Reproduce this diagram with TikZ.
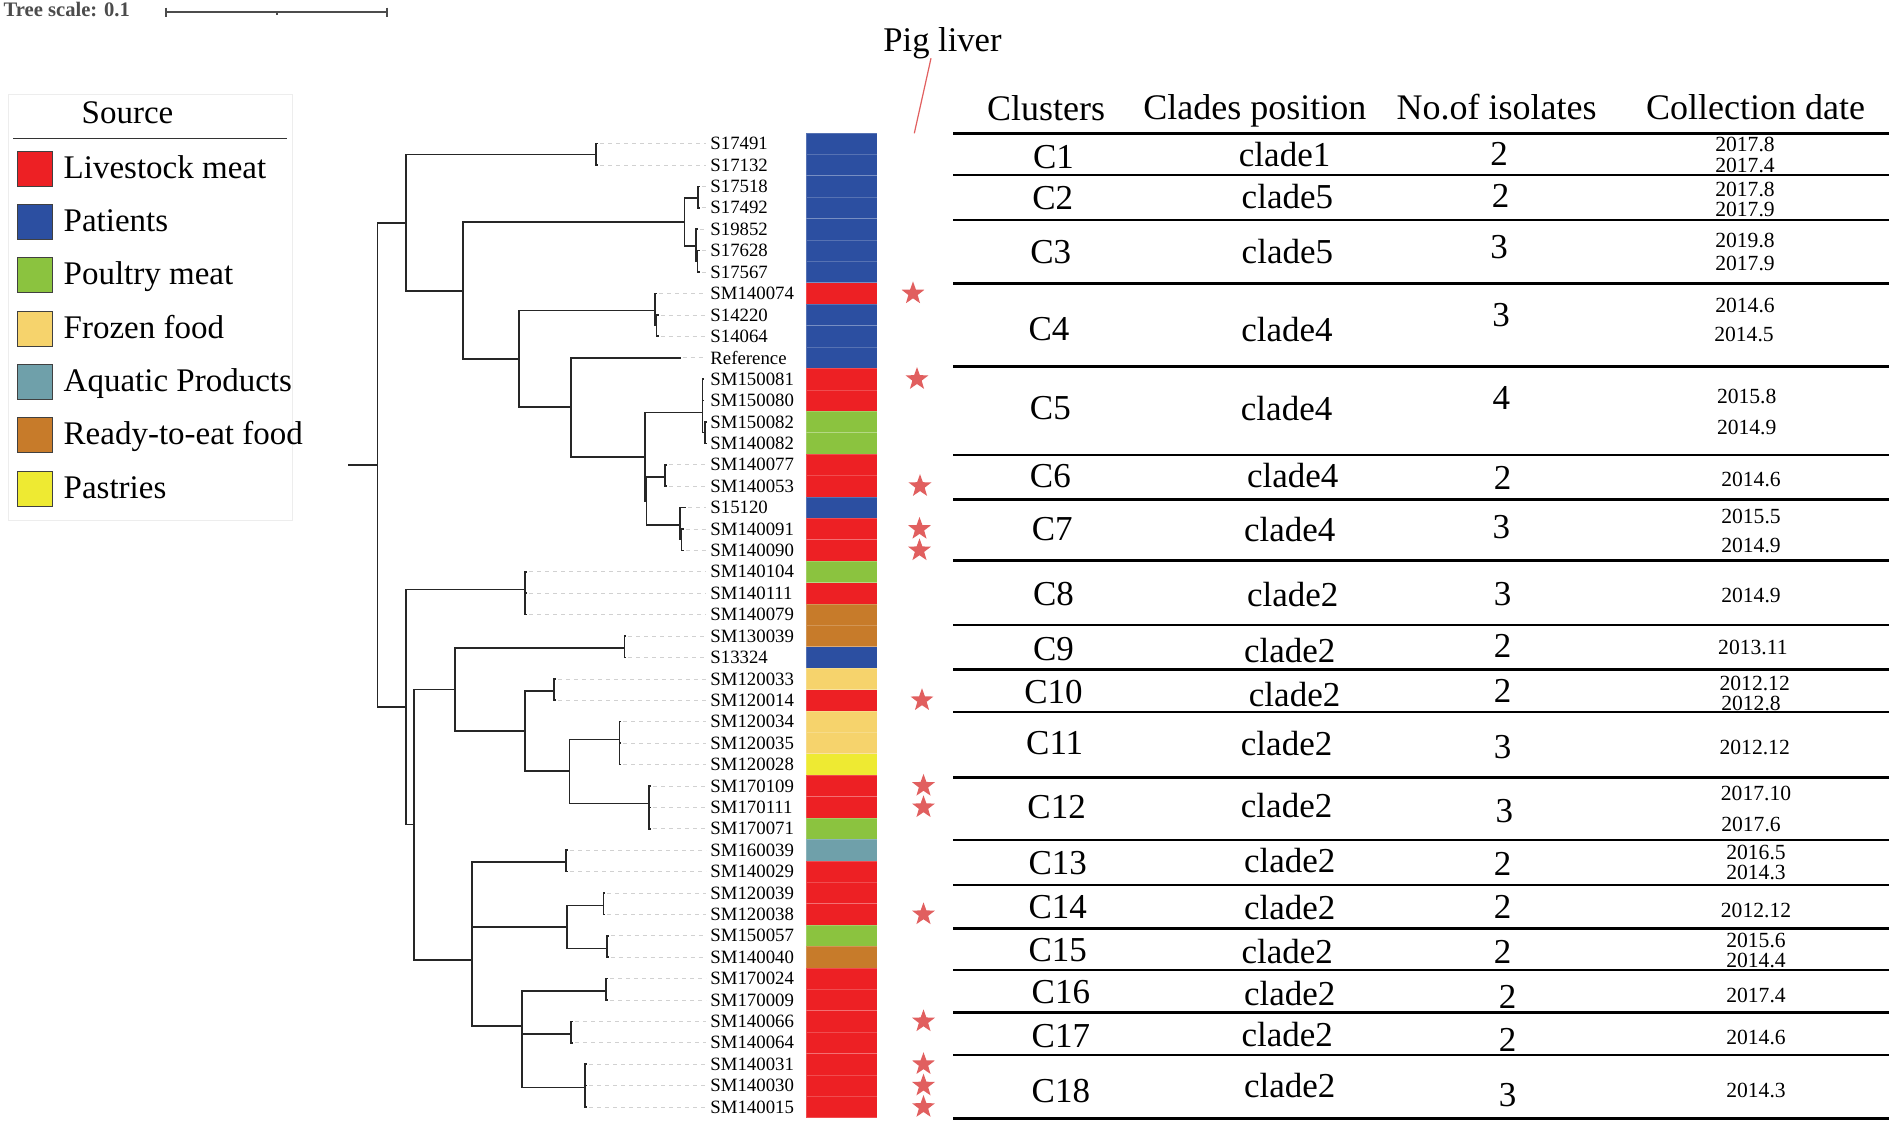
\documentclass[tikz,border=0pt]{standalone}
\usepackage{fontspec}
\setmainfont{Liberation Serif}
\usetikzlibrary{shapes.geometric}
\definecolor{cLive}{RGB}{237,32,36}
\definecolor{cPat}{RGB}{44,79,161}
\definecolor{cPoul}{RGB}{139,195,63}
\definecolor{cFroz}{RGB}{246,211,108}
\definecolor{cAqua}{RGB}{111,160,170}
\definecolor{cReady}{RGB}{199,123,42}
\definecolor{cPast}{RGB}{238,234,50}
\definecolor{cStar}{RGB}{225,95,95}
\newcommand{\ry}[1]{(143.6+21.41*(#1))}
\tikzset{
 branch/.style={draw=black!85, line width=0.8pt},
 leader/.style={draw=black!18, dash pattern=on 2pt off 2pt, line width=0.35pt, shorten >=2pt, shorten <=1pt},
 leaflab/.style={font=\fontsize{9.4}{10}\selectfont, inner sep=0pt, anchor=west},
 cell/.style={minimum width=35.5pt, minimum height=10.705pt, inner sep=0pt, draw=white, draw opacity=0.2, line width=0.3pt},
 starmark/.style={star, star points=5, star point ratio=2.45, fill=cStar, minimum size=12pt, inner sep=0pt},
 hdr/.style={font=\fontsize{18}{20}\selectfont, inner sep=0pt, anchor=base},
 cel/.style={font=\fontsize{17.5}{19}\selectfont, inner sep=0pt},
 dat/.style={font=\fontsize{10.8}{12}\selectfont, inner sep=0pt},
 tabrule/.style={line width=1.3pt, draw=black},
 legtxt/.style={font=\fontsize{16.5}{18}\selectfont, inner sep=0pt, anchor=base west},
 swatch/.style={minimum size=17.5pt, inner sep=0pt, draw=black!75, line width=0.5pt},
 pigline/.style={draw=cStar, line width=0.6pt}
}
\begin{document}
\begin{tikzpicture}[x=0.5pt,y=-0.5pt]
\useasboundingbox (0,0) rectangle (1902,1124);
\fill[white] (0,0) rectangle (1902,1124);

% ---- tree scale ----
\node[anchor=base west, font=\bfseries\fontsize{10.3}{12}\selectfont, text=black!70, inner sep=0pt] (ts) at (3.3,16.7) {Tree scale: 0.1};
\coordinate (sbL) at (165.7,12.3);
\coordinate (sbM) at (276.7,12.3);
\coordinate (sbR) at (387.3,12.3);
\draw[black!70, line width=0.9pt] (sbL) -- (sbR);
\draw[black!70, line width=0.9pt] (165.7,7.6) -- (165.7,17);
\draw[black!70, line width=0.9pt] (387.3,7.6) -- (387.3,17);
\draw[black!70, line width=0.9pt] (sbM) -- (276.7,15);

% ---- legend ----
\draw[draw=black!7, line width=0.5pt] (8.3,94) rectangle (292.7,520.7);
\node[font=\fontsize{16.5}{18}\selectfont, inner sep=0pt, anchor=base] (srcT) at (127.5,123.3) {Source};
\draw[black!80, line width=0.6pt] (13.3,138.3) -- (287.3,138.3);
\foreach \k/\lab/\col in {0/Livestock meat/cLive, 1/Patients/cPat, 2/Poultry meat/cPoul, 3/Frozen food/cFroz, 4/Aquatic Products/cAqua, 5/Ready-to-eat food/cReady, 6/Pastries/cPast}{
  \node[swatch, fill=\col] (sw\k) at (34.7,{168.8+53.3*\k}) {};
  \node[legtxt] (lt\k) at (63.3,{178.3+53.3*\k}) {\lab};
}

% ---- tree internal nodes ----
\coordinate (rootstub) at (348.3,465);
\coordinate (root) at (377.3,465);
\coordinate (nA) at (406,222.7);
\coordinate (nA1) at (595.7,154.3);
\coordinate (nA2) at (462.7,290.7);
\coordinate (nA2a) at (684.3,222);
\coordinate (nA2a1) at (697.7,198);
\coordinate (nA2a2) at (695.7,246);
\coordinate (nA2a2i) at (697.3,261.1);
\coordinate (nA2b) at (519,359);
\coordinate (nC4) at (655,310.3);
\coordinate (nC4i) at (656.3,325.1);
\coordinate (nA2b2) at (570.7,407);
\coordinate (nX) at (645,456.7);
\coordinate (nP) at (702.3,412.3);
\coordinate (nPi) at (705,432.4);
\coordinate (nQ) at (646.5,500.7);
\coordinate (nQ1) at (665,476.7);
\coordinate (nQ2) at (680,525);
\coordinate (nQ2i) at (681.5,539.3);
\coordinate (nB) at (406,707);
\coordinate (nB1) at (525,589.3);
\coordinate (nB2) at (414,824.3);
\coordinate (nB2a) at (455,689.3);
\coordinate (nC9) at (624.3,648);
\coordinate (nB2a2) at (525,731);
\coordinate (nC10) at (554,690.7);
\coordinate (nB2a2b) at (569.3,771);
\coordinate (nC11) at (619.3,739.3);
\coordinate (nC12) at (649,803.3);
\coordinate (nB2b) at (472,960);
\coordinate (nC13) at (566,862);
\coordinate (nB2b2) at (566.7,926.7);
\coordinate (nC14) at (603.3,905.3);
\coordinate (nC15) at (606.7,948.3);
\coordinate (nB2b3) at (521.7,1026);
\coordinate (nC16) at (606,990.7);
\coordinate (nC17) at (571,1034);
\coordinate (nC18) at (585,1087.3);

% ---- leaves, labels, colour bar ----
\foreach \i/\tx/\lab/\col in {
0/598/S17491/cPat, 1/598/S17132/cPat, 2/700/S17518/cPat, 3/700/S17492/cPat,
4/698/S19852/cPat, 5/699.5/S17628/cPat, 6/699.5/S17567/cPat, 7/657/SM140074/cLive,
8/658.5/S14220/cPat, 9/658.5/S14064/cPat, 10/680.7/Reference/cPat, 11/704/SM150081/cLive,
12/704/SM150080/cLive, 13/707/SM150082/cPoul, 14/707/SM140082/cPoul, 15/667/SM140077/cLive,
16/667/SM140053/cLive, 17/686/S15120/cPat, 18/683.5/SM140091/cLive, 19/683.5/SM140090/cLive,
20/527/SM140104/cPoul, 21/527/SM140111/cLive, 22/527/SM140079/cReady, 23/626/SM130039/cReady,
24/626/S13324/cPat, 25/556/SM120033/cFroz, 26/556/SM120014/cLive, 27/621/SM120034/cFroz,
28/621/SM120035/cFroz, 29/621/SM120028/cPast, 30/651/SM170109/cLive, 31/651/SM170111/cLive,
32/651/SM170071/cPoul, 33/568/SM160039/cAqua, 34/568/SM140029/cLive, 35/605/SM120039/cLive,
36/605/SM120038/cLive, 37/608.5/SM150057/cPoul, 38/608.5/SM140040/cReady, 39/608/SM170024/cLive,
40/608/SM170009/cLive, 41/573/SM140066/cLive, 42/573/SM140064/cLive, 43/587/SM140031/cLive,
44/587/SM140030/cLive, 45/587/SM140015/cLive}{
  \coordinate (L\i) at (\tx,{\ry{\i}});
  \node[leaflab] (T\i) at (710,{\ry{\i}}) {\lab};
  \node[cell, fill=\col] (B\i) at (841.5,{\ry{\i}}) {};
  \draw[leader] (L\i) -- (T\i.west);
}

% ---- branches ----
\draw[branch] (rootstub) -- (root);
\foreach \p/\c in {root/nA, root/nB, nA/nA1, nA1/L0, nA1/L1, nA/nA2, nA2/nA2a, nA2/nA2b,
  nA2a/nA2a1, nA2a/nA2a2, nA2a1/L2, nA2a1/L3, nA2a2/L4, nA2a2/nA2a2i, nA2a2i/L5, nA2a2i/L6,
  nA2b/nC4, nA2b/nA2b2, nC4/L7, nC4/nC4i, nC4i/L8, nC4i/L9, nA2b2/L10, nA2b2/nX,
  nX/nP, nX/nQ, nP/L11, nP/L12, nP/nPi, nPi/L13, nPi/L14, nQ/nQ1, nQ/nQ2, nQ1/L15, nQ1/L16,
  nQ2/L17, nQ2/nQ2i, nQ2i/L18, nQ2i/L19,
  nB/nB1, nB/nB2, nB1/L20, nB1/L21, nB1/L22, nB2/nB2a, nB2/nB2b, nB2a/nC9, nB2a/nB2a2,
  nC9/L23, nC9/L24, nB2a2/nC10, nB2a2/nB2a2b, nC10/L25, nC10/L26, nB2a2b/nC11, nB2a2b/nC12,
  nC11/L27, nC11/L28, nC11/L29, nC12/L30, nC12/L31, nC12/L32,
  nB2b/nC13, nB2b/nB2b2, nB2b/nB2b3, nC13/L33, nC13/L34, nB2b2/nC14, nB2b2/nC15,
  nC14/L35, nC14/L36, nC15/L37, nC15/L38, nB2b3/nC16, nB2b3/nC17, nB2b3/nC18,
  nC16/L39, nC16/L40, nC17/L41, nC17/L42, nC18/L43, nC18/L44, nC18/L45}{
  \draw[branch] (\p) |- (\c);
}

% ---- stars ----
\foreach \i/\sx in {7/913, 11/917, 16/920, 18/919.5, 19/919.5, 26/922, 30/923.5, 31/923.5, 36/923.5, 41/923.5, 43/923.5, 44/923.5, 45/923.5}{
  \node[starmark] (St\i) at (\sx,{\ry{\i}}) {};
}

% ---- pig liver ----
\node[font=\fontsize{17.3}{19}\selectfont, inner sep=0pt, anchor=base] (pig) at (942.5,51.7) {Pig liver};
\coordinate (pigA) at (931,58.3);
\coordinate (pigB) at (914.3,133.3);
\draw[pigline] (pigA) -- (pigB);

% ---- table headers ----
\node[hdr] (h1) at (1046,120) {Clusters};
\node[hdr] (h2) at (1254.8,119) {Clades position};
\node[hdr] (h3) at (1496.6,119.5) {No.of isolates};
\node[hdr] (h4) at (1755.6,119) {Collection date};

% ---- table rules ----
\foreach \yy in {133.3, 175, 220, 283.3, 366.7, 455, 499.3, 560.7, 625, 669.3, 712, 777.7, 840, 885, 928.3, 970, 1012.7, 1055, 1118.3}{
  \draw[tabrule] (953,\yy) -- (1889,\yy);
}

% ---- cluster names ----
\foreach \n/\xx/\yy in {1/1053.5/156.7, 2/1052.7/198.3, 3/1050.8/252.5, 4/1049/329, 5/1050.4/408.3,
  6/1050.4/475.8, 7/1052.3/529.2, 8/1053.5/594.2, 9/1053.5/649.2, 10/1053.5/691.7, 11/1054.7/743.3,
  12/1056.6/807.5, 13/1057.8/863.3, 14/1057.8/906.7, 15/1057.8/950, 16/1060.9/991.7, 17/1060.9/1035.8,
  18/1060.9/1090.8}{
  \node[cel] (cn\n) at (\xx,\yy) {C\n};
}

% ---- clade positions ----
\foreach \n/\xx/\yy/\cl in {1/1284.6/155/1, 2/1287.4/196.7/5, 3/1287.4/251.7/5, 4/1287/330/4,
  5/1286.6/408.3/4, 6/1292.8/475.8/4, 7/1289.7/529.2/4, 8/1292.8/594.2/2, 9/1289.7/650.8/2,
  10/1294.6/694.2/2, 11/1286.6/743.3/2, 12/1286.6/805.8/2, 13/1289.7/860.8/2, 14/1289.7/907.5/2,
  15/1287.2/951.7/2, 16/1289.7/993.3/2, 17/1287.2/1034.2/2, 18/1289.7/1085.8/2}{
  \node[cel] (cp\n) at (\xx,\yy) {clade\cl};
}

% ---- number of isolates ----
\foreach \n/\xx/\yy/\v in {1/1499/154.2/2, 2/1500.6/196/2, 3/1499/246.7/3, 4/1501/315/3,
  5/1501.3/398.3/4, 6/1502.6/478.3/2, 7/1501.3/526.7/3, 8/1502.6/594.2/3, 9/1502.6/645.8/2,
  10/1502.6/690.8/2, 11/1502.6/746.7/3, 12/1504.4/810.8/3, 13/1502.6/864.2/2, 14/1502.6/906.7/2,
  15/1502.6/951.7/2, 16/1507.5/996.7/2, 17/1507.5/1040/2, 18/1507.5/1095/3}{
  \node[cel] (ni\n) at (\xx,\yy) {\v};
}

% ---- collection dates ----
\foreach \n/\xx/\yy/\d in {a/1745/144.8/2017.8, b/1745/165.2/2017.4, c/1745/189.5/2017.8,
  d/1745/209.7/2017.9, e/1745/240/2019.8, f/1745/263.3/2017.9, g/1745/305/2014.6,
  h/1744/334.2/2014.5, i/1746.7/396.7/2015.8, j/1746.7/427.5/2014.9, k/1751/479.2/2014.6,
  l/1751/516.7/2015.5, m/1751/545/2014.9, n/1751/595.8/2014.9, o/1752.9/647.5/2013.11,
  p/1754.7/683/2012.12, q/1751/703/2012.8, r/1754.7/747.5/2012.12, s/1756/793.3/2017.10,
  t/1751/824.2/2017.6, u/1756/852.2/2016.5, v/1756/872.8/2014.3, w/1756/910/2012.12,
  x/1756/940.5/2015.6, y/1756/960.3/2014.4, z/1756/995.8/2017.4, aa/1756/1037.5/2014.6,
  ab/1756/1090.8/2014.3}{
  \node[dat] (dt\n) at (\xx,\yy) {\d};
}
\end{tikzpicture}
\end{document}
